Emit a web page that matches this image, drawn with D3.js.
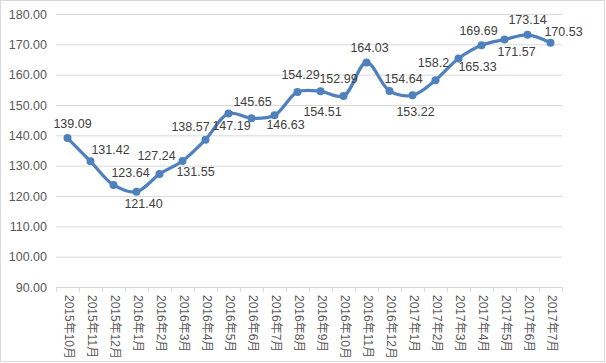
<!DOCTYPE html>
<html>
<head>
<meta charset="utf-8">
<script src="https://cdn.jsdelivr.net/npm/d3@7"></script>
<style>
  body { margin:0; background:#fff; }
  svg text { font-family: "Liberation Sans Narrow", "Liberation Sans", "Noto Sans CJK SC", sans-serif; }
</style>
</head>
<body>
<div id="chart"></div>
<script>
let months = ["2015年10月","2015年11月","2015年12月","2016年1月","2016年2月","2016年3月","2016年4月",
              "2016年5月","2016年6月","2016年7月","2016年8月","2016年9月","2016年10月","2016年11月",
              "2016年12月","2017年1月","2017年2月","2017年3月","2017年4月","2017年5月","2017年6月","2017年7月"]
let values = [139.09,131.42,123.64,121.40,127.24,131.55,138.57,147.19,145.65,146.63,154.29,
              154.51,152.99,164.03,154.64,153.22,158.2,165.33,169.69,171.57,173.14,170.53]
let valueLabels = ["139.09","131.42","123.64","121.40","127.24","131.55","138.57","147.19","145.65","146.63","154.29",
                   "154.51","152.99","164.03","154.64","153.22","158.2","165.33","169.69","171.57","173.14","170.53"]
let yTicks = [90,100,110,120,130,140,150,160,170,180]

// label placement relative to the point (layout only)
let labelDx = [5,20,17,7,-3,13,-15,3,1,11,3,2,-5,3,14,3,-2,19,-3,12,0,13]
let labelDy = [-13,-11,-11,13,-17,12,-12,13,-15,10,-16,21,-16,-14,-11,17,-16,9,-14,13,-14,-10]

function render(){
  let width = 606, height = 363,
      margin = { top:14, right:44, left:56, bottom:76 },
      innerWidth = width - margin.left - margin.right,
      innerHeight = height - margin.top - margin.bottom;

  let svg = d3.select("#chart").append("svg").attr("width",width).attr("height",height)

  svg.append("rect").attr("x",0.5).attr("y",0.5).attr("width",width-2).attr("height",height-2)
     .attr("fill","#fff").attr("stroke","#d9d9d9")

  let g = svg.append("g").attr("transform",`translate(${margin.left},${margin.top})`)

  let xScale = d3.scaleBand().domain(months).range([0,innerWidth])
  let yScale = d3.scaleLinear().domain([90,180]).range([innerHeight,0])

  let yAxis = d3.axisLeft(yScale).tickValues(yTicks).tickSize(-innerWidth).tickPadding(9)
                .tickFormat(d => d3.format(".2f")(d))
  let yGroup = g.append("g").call(yAxis)
  yGroup.select(".domain").remove()
  yGroup.selectAll(".tick line").attr("stroke","#d9d9d9")
  yGroup.selectAll(".tick text").attr("fill","#595959").attr("font-size",12.5)

  let xAxis = d3.axisBottom(xScale).tickSize(0).tickFormat("")
  let xGroup = g.append("g").attr("transform",`translate(0,${innerHeight})`).call(xAxis)
  xGroup.select(".domain").attr("stroke","#d9d9d9")

  // tick marks at band boundaries
  g.selectAll(".xtick").data(d3.range(months.length+1)).enter().append("line")
    .attr("x1",i => Math.round(i*xScale.step())+0.5).attr("x2",i => Math.round(i*xScale.step())+0.5)
    .attr("y1",innerHeight).attr("y2",innerHeight+5).attr("stroke","#d9d9d9")

  g.selectAll(".xlabel").data(months).enter().append("text")
    .attr("transform",d => `translate(${xScale(d)+xScale.bandwidth()/2+1},${innerHeight+8}) rotate(90)`)
    .attr("dominant-baseline","middle").attr("font-size",12).attr("fill","#595959")
    .text(d => d)

  let xPos = (d,i) => xScale(months[i]) + xScale.bandwidth()/2
  let lineGenerator = d3.line()
      .x((d,i) => xPos(d,i))
      .y(d => yScale(d))
      .curve(d3.curveCatmullRom.alpha(0.5))

  g.append("path").attr("d",lineGenerator(values))
    .attr("fill","none").attr("stroke","#4f81bd").attr("stroke-width",3.25).attr("stroke-linejoin","round")

  g.selectAll("circle").data(values).enter().append("circle")
    .attr("cx",(d,i) => xPos(d,i)).attr("cy",d => yScale(d)).attr("r",4)
    .attr("fill","#4f81bd")

  g.selectAll(".vlabel").data(values).enter().append("text")
    .attr("x",(d,i) => xPos(d,i) + labelDx[i])
    .attr("y",(d,i) => yScale(d) + labelDy[i])
    .attr("text-anchor","middle").attr("dominant-baseline","middle")
    .attr("font-size",12.5).attr("fill","#404040")
    .text((d,i) => valueLabels[i])
}

render()
</script>
</body>
</html>
